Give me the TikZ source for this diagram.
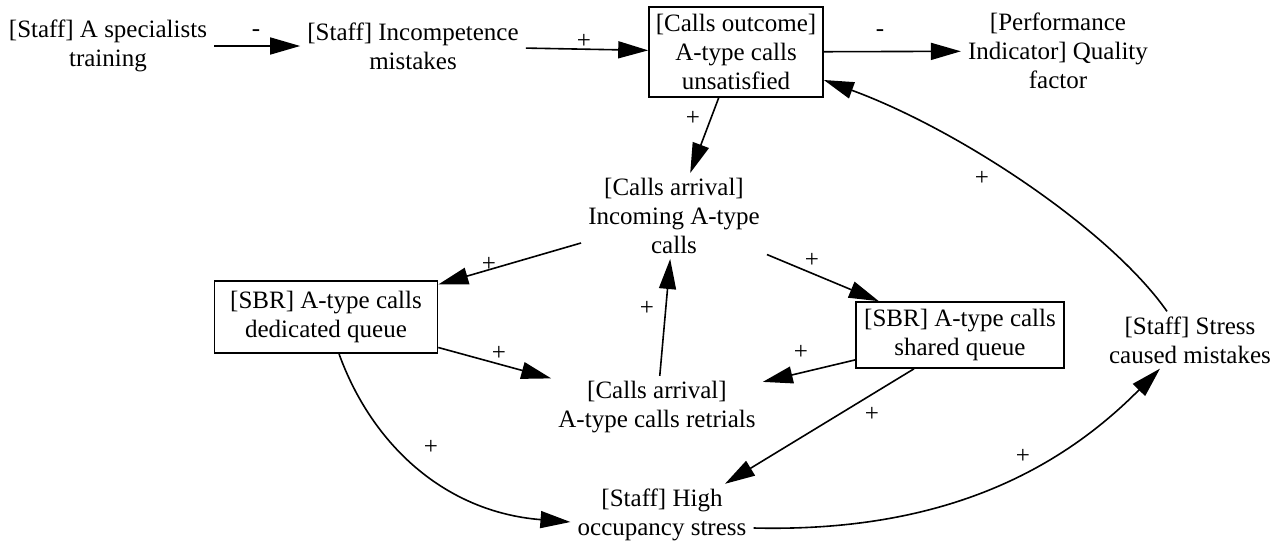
\documentclass[tikz,border=0pt]{standalone}
\usepackage{fontspec}
\setmainfont{LiberationSerif}[Extension=.ttf, UprightFont=*-Regular, BoldFont=*-Bold]
\usetikzlibrary{arrows.meta}
\begin{document}
\begin{tikzpicture}[x=1pt,y=-1pt,
  every node/.style={font=\rmfamily\fontsize{25}{29}\selectfont, align=center},
  var/.style={inner xsep=7pt, inner ysep=5pt},
  stock/.style={draw, line width=1.6pt, inner sep=0pt},
  link/.style={line width=1.6pt, -{Triangle[length=30pt,width=17pt]}},
  sign/.style={inner sep=1pt}
]
\useasboundingbox (0,0) rectangle (1288,546);

% variables
\node[var] (train) at (108,46) {[Staff] A specialists\\training};
\node[var] (incomp) at (413,46) {[Staff] Incompetence\\mistakes};
\node[stock, minimum width=174pt, minimum height=90pt] (unsat) at (736,52)
  {[Calls outcome]\\A-type calls\\unsatisfied};
\node[var] (quality) at (1058,51) {[Performance\\Indicator] Quality\\factor};
\node[var] (incoming) at (674,216) {[Calls arrival]\\Incoming A-type\\calls};
\node[stock, minimum width=223pt, minimum height=72pt] (dedicated) at (326,317)
  {[SBR] A-type calls\\dedicated queue};
\node[var] (retrials) at (657,407) {[Calls arrival]\\A-type calls retrials};
\node[stock, minimum width=208pt, minimum height=66pt] (shared) at (960,335)
  {[SBR] A-type calls\\shared queue};
\node[var] (stressm) at (1190,340) {[Staff] Stress\\caused mistakes};
\node[var] (occupancy) at (662,515) {[Staff] High\\occupancy stress};

% causal links
\draw[link] (train) -- (incomp);
\draw[link] (incomp) -- (unsat);
\draw[link] (unsat) -- (quality);
\draw[link] (unsat) -- (incoming);
\draw[link] (incoming) -- (dedicated);
\draw[link] (incoming) -- (shared);
\draw[link] (retrials) -- (incoming);
\draw[link] (dedicated) -- (retrials);
\draw[link] (shared) -- (retrials);
\draw[link] ([xshift=-46pt]shared.south) -- ([xshift=63pt]occupancy.north);
\draw[link] ([xshift=13pt]dedicated.south) .. controls (372,445) and (445,512) .. ([yshift=-7pt]occupancy.west);
\draw[link] ([yshift=-13pt]occupancy.east) .. controls (920,532) and (1045,485) .. ([xshift=-30pt]stressm.south);
\draw[link] ([xshift=-23pt]stressm.north) .. controls (1110,230) and (960,130) .. ([yshift=-28pt]unsat.east);

% polarity signs
\node[sign] (p1) at (256,33) {-};
\node[sign] (p2) at (584,41) {+};
\node[sign] (p3) at (880,33) {-};
\node[sign] (p4) at (693,118) {+};
\node[sign] (p5) at (489,264) {+};
\node[sign] (p6) at (812,260) {+};
\node[sign] (p7) at (647,308) {+};
\node[sign] (p8) at (499,353) {+};
\node[sign] (p9) at (801,352) {+};
\node[sign] (p10) at (872,414) {+};
\node[sign] (p11) at (431,447) {+};
\node[sign] (p12) at (1023,456) {+};
\node[sign] (p13) at (982,178) {+};
\end{tikzpicture}
\end{document}
